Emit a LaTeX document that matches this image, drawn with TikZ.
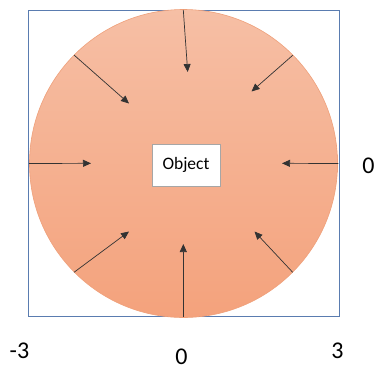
\documentclass[tikz,border=0pt]{standalone}
\usepackage{fontspec}
\setmainfont{Carlito}
\usetikzlibrary{arrows.meta}
\definecolor{frameblue}{HTML}{5A7CB0}
\definecolor{disctop}{HTML}{F6BFA5}
\definecolor{discbot}{HTML}{F4A27C}
\definecolor{discedge}{HTML}{EFA07A}
\begin{document}
\begin{tikzpicture}[x=1pt,y=-1pt,
  arr/.style={-{Triangle[length=8pt,width=7pt]}, line width=0.7pt, draw=black!80},
  lbl/.style={font=\fontsize{24}{28}\selectfont, inner sep=0pt, text=black},
  objbox/.style={draw=black!35, line width=0.9pt, fill=white, minimum width=68pt, minimum height=42pt, inner sep=0pt, font=\fontsize{17.5}{20}\selectfont}]
\useasboundingbox (0,0) rectangle (375,368);
% frame
\draw[frameblue, line width=1pt] (28.5,10) rectangle (339.5,316.5);
% disc
\shade[top color=disctop, bottom color=discbot] (183.5,163.5) circle (154);
\draw[discedge, line width=0.6pt] (183.5,163.5) circle (154);
\node[objbox] (obj) at (186,165) {Object};
% arrow endpoints
\coordinate (s1) at (183.3,10);   \coordinate (e1) at (187.7,72);
\coordinate (s2) at (292.7,55.3); \coordinate (e2) at (251.5,91.5);
\coordinate (s3) at (338.3,163.5);\coordinate (e3) at (282,163.3);
\coordinate (s4) at (292.7,272.3);\coordinate (e4) at (254.5,231.5);
\coordinate (s5) at (183.3,316.5);\coordinate (e5) at (183.3,244);
\coordinate (s6) at (74,272.3);   \coordinate (e6) at (129,231.5);
\coordinate (s7) at (29,163.5);   \coordinate (e7) at (91,163.3);
\coordinate (s8) at (74,55);      \coordinate (e8) at (129,103.5);
\foreach \i in {1,...,8} \draw[arr] (s\i) -- (e\i);
% labels
\node[lbl] (lm3) at (19.5,350.5) {-3};
\node[lbl] (lp3) at (337.5,350.5) {3};
\node[lbl] (l0r) at (368.5,165.5) {0};
\node[lbl] (l0b) at (181.5,356.5) {0};
\end{tikzpicture}
\end{document}
